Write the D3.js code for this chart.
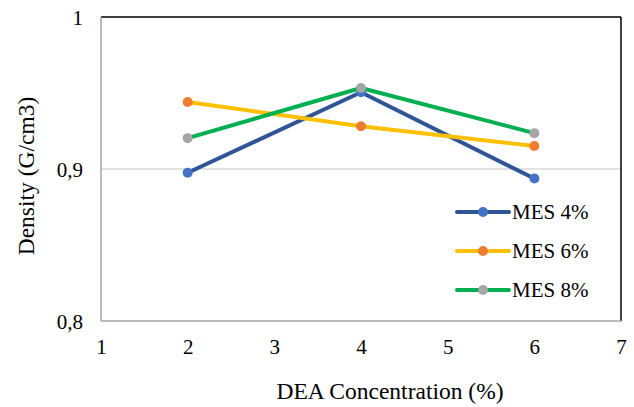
<!DOCTYPE html>
<html>
<head>
<meta charset="utf-8">
<script src="https://cdn.jsdelivr.net/npm/d3@7"></script>
<style>
  body { margin: 0; background: #fff; }
</style>
</head>
<body>
<svg id="chart" width="634" height="407" font-family="Liberation Serif"></svg>
<script>
// data
const concentrations = [2, 4, 6];
const seriesNames = ["MES 4%", "MES 6%", "MES 8%"];
const mes4 = [0.8975, 0.9505, 0.8937];
const mes6 = [0.9441, 0.9281, 0.9151];
const mes8 = [0.9203, 0.9533, 0.9236];
const xTicks = [1, 2, 3, 4, 5, 6, 7];
const yTicks = [0.8, 0.9, 1];

const lineColours = ["#2f5597", "#ffc000", "#00b050"];
const dotColours = ["#4472c4", "#ed7d31", "#a5a5a5"];
const serif = "Liberation Serif";

const allSeries = [mes4, mes6, mes8].map((vals, i) => ({
    name: seriesNames[i],
    line: lineColours[i],
    dot: dotColours[i],
    points: vals.map((v, j) => ({x: concentrations[j], y: v}))
}));

const svg = d3.select("#chart");

const plotLeft = 101, plotRight = 621, plotTop = 17, plotBottom = 321;

const x = d3.scaleLinear().domain([1, 7]).range([plotLeft, plotRight]);
const y = d3.scaleLinear().domain([0.8, 1]).range([plotBottom, plotTop]);

// gridline at 0.9
svg.append("g")
    .selectAll("line")
    .data(yTicks.filter(t => t > 0.8 && t < 1))
    .join("line")
    .attr("x1", plotLeft).attr("x2", plotRight)
    .attr("y1", d => y(d)).attr("y2", d => y(d))
    .attr("stroke", "#d9d9d9")
    .attr("stroke-width", 1.3);

// plot frame: black top/right, grey left/bottom
svg.append("line").attr("x1", plotLeft).attr("x2", plotRight).attr("y1", plotTop).attr("y2", plotTop)
    .attr("stroke", "#000").attr("stroke-width", 1.5);
svg.append("line").attr("x1", plotRight).attr("x2", plotRight).attr("y1", plotTop).attr("y2", plotBottom)
    .attr("stroke", "#000").attr("stroke-width", 1.5);
svg.append("line").attr("x1", plotLeft).attr("x2", plotLeft).attr("y1", plotTop).attr("y2", plotBottom)
    .attr("stroke", "#a6a6a6").attr("stroke-width", 1.5);
svg.append("line").attr("x1", plotLeft).attr("x2", plotRight).attr("y1", plotBottom).attr("y2", plotBottom)
    .attr("stroke", "#a6a6a6").attr("stroke-width", 1.5);

// x axis labels
const xAxis = d3.axisBottom(x).tickValues(xTicks).tickSize(0).tickPadding(18)
    .tickFormat(d3.format("d"));
svg.append("g")
    .attr("transform", `translate(0,${plotBottom})`)
    .call(xAxis)
    .attr("font-family", serif)
    .attr("font-size", 21)
    .call(g => g.select(".domain").remove())
    .selectAll("text")
    .attr("fill", "#000");

// y axis labels
const yAxis = d3.axisLeft(y).tickValues(yTicks).tickSize(0).tickPadding(18)
    .tickFormat(d => d === 1 ? "1" : d3.format(".1f")(d).replace(".", ","));
svg.append("g")
    .attr("transform", `translate(${plotLeft},0)`)
    .call(yAxis)
    .attr("font-family", serif)
    .attr("font-size", 21)
    .call(g => g.select(".domain").remove())
    .selectAll("text")
    .attr("dy", "0.38em")
    .attr("fill", "#000");

// axis titles
svg.append("text")
    .attr("x", 390)
    .attr("y", 399)
    .attr("text-anchor", "middle")
    .attr("font-size", 23.5)
    .text("DEA Concentration (%)");

svg.append("text")
    .attr("transform", "translate(34,176) rotate(-90)")
    .attr("text-anchor", "middle")
    .attr("font-size", 23.5)
    .text("Density (G/cm3)");

const line = d3.line().x(d => x(d.x)).y(d => y(d.y));

// lines
svg.append("g")
    .attr("fill", "none")
    .attr("stroke-width", 4)
    .attr("stroke-linejoin", "round")
    .selectAll("path")
    .data(allSeries)
    .join("path")
    .attr("stroke", d => d.line)
    .attr("d", d => line(d.points));

// markers
allSeries.forEach(s => {
    svg.append("g")
        .selectAll("circle")
        .data(s.points)
        .join("circle")
        .attr("cx", d => x(d.x))
        .attr("cy", d => y(d.y))
        .attr("r", 5)
        .attr("fill", s.dot);
});

// legend
const legend = svg.append("g")
    .selectAll("g")
    .data(allSeries)
    .join("g")
    .attr("transform", (d, i) => `translate(457,${212 + i * 39})`);

legend.append("line")
    .attr("x1", 0).attr("x2", 52)
    .attr("stroke", d => d.line)
    .attr("stroke-width", 4)
    .attr("stroke-linecap", "round");
legend.append("circle")
    .attr("cx", 26).attr("r", 5)
    .attr("fill", d => d.dot);
legend.append("text")
    .attr("x", 55)
    .attr("dy", "0.35em")
    .attr("font-size", 21)
    .text(d => d.name);
</script>
</body>
</html>
